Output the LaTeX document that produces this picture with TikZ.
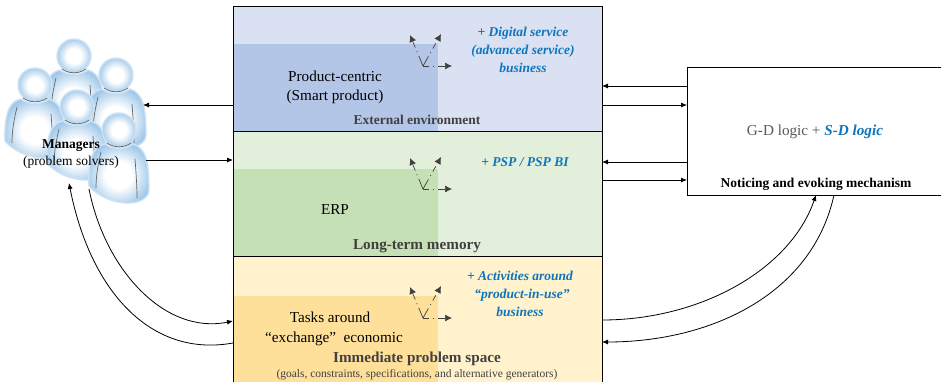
\documentclass[tikz,border=0pt]{standalone}
\usepackage{fontspec}
\setmainfont{Liberation Serif}
\usepackage{tikz}
\usetikzlibrary{arrows.meta}

\definecolor{envlight}{HTML}{DAE1F3}
\definecolor{envdark}{HTML}{B4C6E7}
\definecolor{memlight}{HTML}{E2EFDA}
\definecolor{memdark}{HTML}{C5E0B4}
\definecolor{spacelight}{HTML}{FFF2CC}
\definecolor{spacedark}{HTML}{FFE09B}
\definecolor{plusblue}{HTML}{0F75BD}
\definecolor{headgrey}{HTML}{404040}
\definecolor{skinlow}{HTML}{A3CAEA}
\definecolor{skinedge}{HTML}{7FB1DE}
\definecolor{skinrim}{HTML}{CFE2F4}

\pgfdeclareradialshading{skinshade}{\pgfpoint{0bp}{0bp}}{
  color(0bp)=(white); color(11bp)=(white); color(26bp)=(skinlow); color(38bp)=(skinedge); color(50bp)=(skinedge)}

\tikzset{
  zone/.style={draw=black, line width=0.9pt, inner sep=0pt, outer sep=0pt},
  inner zone/.style={inner sep=0pt, outer sep=0pt},
  arr/.style={-{Latex[length=6pt,width=5pt]}, line width=0.8pt, black},
  plus/.style={font=\fontsize{13.5}{18}\selectfont\bfseries\itshape, text=plusblue, align=center, inner sep=0pt},
  plain/.style={font=\fontsize{15.2}{19}\selectfont, align=center, inner sep=0pt},
  heading/.style={font=\fontsize{15.2}{18}\selectfont\bfseries, text=headgrey, inner sep=0pt},
  skin/.style={shading=skinshade, draw=skinrim, line width=1.4pt},
  seam/.style={draw=black!60, line width=0.7pt},
  spoke/.style={-{Latex[length=7pt,width=7pt]}, headgrey, line width=0.7pt},
  manager/.pic={
    \draw[skin] (-14,14) .. controls (-26,16) and (-31,30) .. (-30,56)
      .. controls (-20,68) and (2,76) .. (18,72)
      .. controls (25,70) and (30,66) .. (30,60)
      .. controls (30,35) and (28,18) .. (14,14)
      .. controls (6,20) and (-6,20) .. cycle;
    \draw[skin] (0,0) circle (17);
    \draw[seam] (-12,13) .. controls (-5,18) and (5,18) .. (12,13);
    \draw[seam] (-18,22) .. controls (-21,35) and (-23,45) .. (-23,58);
    \draw[seam] (16,29) .. controls (17,42) and (18,55) .. (18,68);
  },
  triad/.pic={
    \coordinate (o) at (0,0);
    \draw[spoke, dash pattern=on 11pt off 4pt on 1pt off 4pt on 6pt off 9pt] (o) -- (-13,-31);
    \draw[spoke, dash pattern=on 11pt off 4pt on 1pt off 4pt on 6pt off 9pt] (o) -- (18,-32);
    \draw[spoke, dash pattern=on 6pt off 4pt on 1pt off 4pt on 8pt off 9pt] (o) -- (29,0);
  }
}

\begin{document}
\begin{tikzpicture}[x=1pt, y=-1pt]
  \clip (0,0) rectangle (941,382);

  % the three stacked spaces
  \node[zone, fill=envlight, minimum width=369pt, minimum height=125pt, draw=none] (envbox) at (417.5,68.5) {};
  \node[zone, fill=memlight, minimum width=369pt, minimum height=125pt] (membox) at (417.5,193.5) {};
  \node[zone, fill=spacelight, minimum width=369pt, minimum height=130pt] (spacebox) at (417.5,321) {};
  \node[inner zone, fill=envdark, minimum width=205pt, minimum height=87pt] (envpart) at (335.5,87.5) {};
  \node[inner zone, fill=memdark, minimum width=205pt, minimum height=87pt] (mempart) at (335.5,212.5) {};
  \node[inner zone, fill=spacedark, minimum width=205pt, minimum height=88pt] (spacepart) at (335.5,340) {};
  \draw[line width=0.9pt] (membox.north west) -- (envbox.north west |- 0,6) -- (envbox.north east |- 0,6) -- (membox.north east);
  \draw[line width=0.9pt] (membox.south west) -- (spacebox.south west);
  \draw[line width=0.9pt] (membox.south east) -- (spacebox.south east);
  \draw[line width=0.9pt] (membox.north west) -- (membox.south west);
  \draw[line width=0.9pt] (membox.north east) -- (membox.south east);
  \draw[line width=0.9pt, dashed] (membox.north west) -- (membox.north east);

  \node[zone, minimum width=263pt, minimum height=128pt] (logicbox) at (818.5,131) {};

  \foreach \y in {66,189,318}
    \pic at (423,\y) {triad};

  % group of managers
  \foreach \hx/\hy in {74/56, 116/75, 35/85, 77/107, 119/130}
    \pic at (\hx,\hy) {manager};

  \node[plain] (smart) at (335,87) {Product-centric\\[0pt](Smart product)};
  \node[plain] (erp) at (335,210) {ERP};
  \node[plain] (tasks) at (330,317) {Tasks around};
  \node[plain] (exchange) at (334,339) {“exchange” \ economic};
  \node[heading, font=\fontsize{13.5}{18}\selectfont\bfseries] (envname) at (417,120) {External environment};
  \node[heading] (memname) at (417,246) {Long-term memory};
  \node[heading] (spacename) at (417,359) {Immediate problem space};
  \node[font=\fontsize{11.5}{12}\selectfont, text=headgrey, inner sep=0pt] (spacenote) at (417,375) {(goals, constraints, specifications, and alternative generators)};
  \node[plus] (digital) at (523,49.5) {+ Digital service\\(advanced service)\\business};
  \node[plus] (psp) at (525,162) {+ PSP / PSP BI};
  \node[plus] (activity) at (520,294) {+ Activities around\\\hspace*{4pt}“product-in-use”\\business};
  \node[font=\fontsize{13.5}{17}\selectfont, align=center, inner sep=0pt] (managers) at (71,154.5) {\textbf{Managers}\\(problem solvers)};
  \node[font=\fontsize{15.2}{18}\selectfont, text=black!65, inner sep=0pt] (logic) at (815,132) {G-D logic + \textcolor{plusblue}{\textbf{\textit{S-D logic}}}};
  \node[font=\fontsize{13.5}{16}\selectfont\bfseries, inner sep=0pt] (notice) at (816,184.5) {Noticing and evoking mechanism};

  \coordinate (mgrin) at (143,105);
  \coordinate (mgrout) at (146,160);
  \coordinate (mgrlow) at (69,183);
  \coordinate (mgrback) at (89,189);

  \draw[arr] (envbox.west |- mgrin) -- (mgrin);
  \draw[arr] (mgrout) -- (membox.west |- mgrout);
  \draw[arr] (logicbox.west |- 0,86) -- (envbox.east |- 0,86);
  \draw[arr] (envbox.east |- 0,105) -- (logicbox.west |- 0,105);
  \draw[arr] (logicbox.west |- 0,162) -- (membox.east |- 0,162);
  \draw[arr] (membox.east |- 0,180) -- (logicbox.west |- 0,180);

  \draw[arr] (spacebox.west |- 0,343) .. controls (150,358) and (90,290) .. (mgrlow);
  \draw[arr] (mgrback) .. controls (105,270) and (165,335) .. (spacebox.west |- 0,321);
  \draw[arr] (spacebox.east |- 0,320) .. controls (700,320) and (790,270) .. (logicbox.south -| 816,0);
  \draw[arr] (logicbox.south -| 834,0) .. controls (812,295) and (710,342) .. (spacebox.east |- 0,342);
\end{tikzpicture}
\end{document}
